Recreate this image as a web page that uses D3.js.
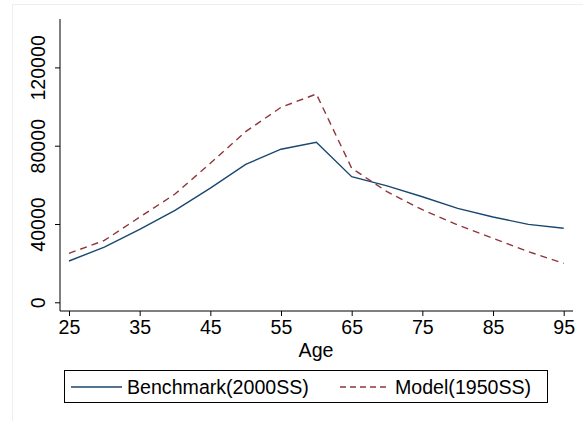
<!DOCTYPE html>
<html>
<head>
<meta charset="utf-8">
<script src="https://cdn.jsdelivr.net/npm/d3@7"></script>
<style>
  body { margin: 0; background: #fff; }
  svg { display: block; }
  text { font-family: "Liberation Sans", Arial, sans-serif; }
</style>
</head>
<body>
<script>
const ages = [25, 30, 35, 40, 45, 50, 55, 60, 65, 70, 75, 80, 85, 90, 95];
const benchmark = [21100, 28200, 37300, 47000, 58300, 70500, 78200, 81700, 64200, 59500, 53900, 48000, 43600, 39800, 37800];
const model = [25000, 31600, 43500, 55300, 71000, 87200, 99600, 106400, 68500, 56500, 47300, 39500, 32700, 25900, 19900];
const xTicks = [25, 35, 45, 55, 65, 75, 85, 95];
const yTicks = [0, 40000, 80000, 120000];
const seriesNames = ["Benchmark(2000SS)", "Model(1950SS)"];

const width = 583;
const height = 421;
const navy = "#1a476f";
const maroon = "#90353b";
const fontSize = "19.6px";

const svg = d3.select("body")
    .append("svg")
    .attr("width", width)
    .attr("height", height);

// faint outer frame (only top and left show in the crop)
svg.append("rect")
    .attr("x", 12.5).attr("y", 4.5)
    .attr("width", 600).attr("height", 430)
    .attr("fill", "none")
    .attr("stroke", "#e8f0f2");

const xScale = d3.scaleLinear()
    .domain([25, 95])
    .range([69, 563.7]);

const yScale = d3.scaleLinear()
    .domain([0, 40000])
    .range([302.3, 224]);

const xAxis = d3.axisBottom(xScale)
    .tickValues(xTicks)
    .tickFormat(d3.format("d"))
    .tickSize(5)
    .tickSizeOuter(0);

const yAxis = d3.axisLeft(yScale)
    .tickValues(yTicks)
    .tickFormat(d3.format("d"))
    .tickSize(5)
    .tickSizeOuter(0);

const gx = svg.append("g")
    .attr("transform", "translate(0,311)")
    .call(xAxis);
gx.select(".domain").attr("d", "M60,0H573");

const gy = svg.append("g")
    .attr("transform", "translate(60,0)")
    .call(yAxis);
gy.select(".domain").attr("d", "M0,19V311");

svg.selectAll(".tick line").attr("stroke", "#000");
svg.selectAll(".domain").attr("stroke", "#000");

gx.selectAll(".tick text")
    .attr("y", 9)
    .attr("dy", "0.71em")
    .style("font-size", fontSize)
    .attr("fill", "#000");

gy.selectAll(".tick text")
    .attr("transform", "rotate(-90)")
    .attr("x", 0)
    .attr("y", -15)
    .attr("dy", "0")
    .attr("text-anchor", "middle")
    .style("font-size", fontSize)
    .attr("fill", "#000");

svg.append("text")
    .attr("x", 316)
    .attr("y", 357)
    .attr("text-anchor", "middle")
    .style("font-size", fontSize)
    .text("Age");

const line = d3.line()
    .x((d, i) => xScale(ages[i]))
    .y(d => yScale(d));

svg.append("path")
    .datum(benchmark)
    .attr("d", line)
    .attr("fill", "none")
    .attr("stroke", navy)
    .attr("stroke-width", 1.4);

svg.append("path")
    .datum(model)
    .attr("d", line)
    .attr("fill", "none")
    .attr("stroke", maroon)
    .attr("stroke-width", 1.4)
    .attr("stroke-dasharray", "7,5");

// legend
const legend = svg.append("g");
legend.append("rect")
    .attr("x", 64.5).attr("y", 370.5)
    .attr("width", 483).attr("height", 32)
    .attr("fill", "#fff")
    .attr("stroke", "#000");

legend.append("line")
    .attr("x1", 71).attr("x2", 122)
    .attr("y1", 387).attr("y2", 387)
    .attr("stroke", navy)
    .attr("stroke-width", 1.4);
legend.append("text")
    .attr("x", 127).attr("y", 394)
    .style("font-size", fontSize)
    .text(seriesNames[0]);

legend.append("line")
    .attr("x1", 340).attr("x2", 390)
    .attr("y1", 387).attr("y2", 387)
    .attr("stroke", maroon)
    .attr("stroke-width", 1.4)
    .attr("stroke-dasharray", "6,4");
legend.append("text")
    .attr("x", 395).attr("y", 394)
    .style("font-size", fontSize)
    .text(seriesNames[1]);
</script>
</body>
</html>
